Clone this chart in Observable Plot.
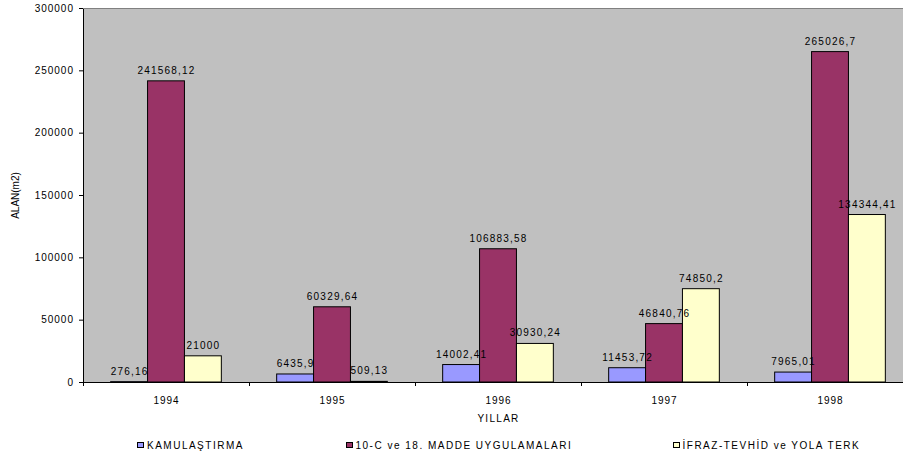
<!DOCTYPE html>
<html>
<head>
<meta charset="utf-8">
<script src="https://cdn.jsdelivr.net/npm/d3@7"></script>
<script src="https://cdn.jsdelivr.net/npm/@observablehq/plot@0.6"></script>
<style>
  html, body { margin: 0; padding: 0; background: #fff; overflow: hidden; }
  #wrap { position: relative; width: 903px; height: 460px; overflow: hidden; font-family: "Liberation Sans", Arial, sans-serif; }
  #chart { width: 920px; }
  #chart svg { display: block; max-width: none !important; width: 920px !important; height: 430px !important; font-family: "Liberation Sans", Arial, sans-serif; }
  #chart svg text { letter-spacing: 1px; fill: #000; }
  #chart g[aria-description="vlabel"] text { letter-spacing: 1.2px; }
  #chart g[aria-description="ytitle"] text { letter-spacing: 0px; }
  #chart g[aria-description="xtitle"] text { letter-spacing: 1.3px; }
  .leg { position: absolute; top: 440px; height: 12px; font-size: 10px; line-height: 12px; letter-spacing: 1.5px; color: #000; white-space: nowrap; }
  .sw { position: absolute; top: 441.5px; width: 7px; height: 6px; box-sizing: border-box; border: 1px solid #000; }
</style>
</head>
<body>
<div id="wrap">
  <div id="chart"></div>
  <div id="legend"></div>
</div>
<script>
const years = ["1994", "1995", "1996", "1997", "1998"];
const kamulastirma = [276.16, 6435.9, 14002.41, 11453.72, 7965.01];
const maddeUygulamalari = [241568.12, 60329.64, 106883.58, 46840.76, 265026.7];
const ifrazTevhid = [21000, 509.13, 30930.24, 74850.2, 134344.41];
const seriesNames = ["KAMULAŞTIRMA", "10-C ve 18. MADDE UYGULAMALARI", "İFRAZ-TEVHİD ve YOLA TERK"];
const seriesColors = ["#9999FF", "#993366", "#FFFFCC"];
const yTicks = [0, 50000, 100000, 150000, 200000, 250000, 300000];

const allSeries = [kamulastirma, maddeUygulamalari, ifrazTevhid];

const W = 920, H = 430, ML = 83, MR = 7, MT = 8, MB = 48;
const step = (W - ML - MR) / years.length;
const barW = step / 4.5;

const fmt = v => String(v).replace(".", ",");

const marks = [Plot.frame({fill: "#C0C0C0", stroke: "#000"})];
const rowsBySeries = allSeries.map((vals, i) => years.map((y, j) => ({year: y, value: vals[j], series: seriesNames[i]})));

rowsBySeries.forEach((rows, i) => {
  marks.push(Plot.barY(rows, {
    x: "year", y: "value",
    fill: seriesColors[i], stroke: "#000", strokeWidth: 1,
    insetLeft: barW * (0.75 + i),
    insetRight: step - barW * (1.75 + i)
  }));
});
rowsBySeries.forEach((rows, i) => {
  marks.push(Plot.text(rows, {
    x: "year", y: "value", text: d => fmt(d.value),
    dx: (i - 1) * barW, dy: -7.5, lineAnchor: "bottom",
    fontSize: 10, fill: "#000", ariaDescription: "vlabel"
  }));
});

marks.push(Plot.ruleY([300000], {stroke: "#808080"}));
marks.push(Plot.ruleY([0], {stroke: "#000"}));
marks.push(Plot.axisY({ticks: yTicks, tickSize: 4, tickPadding: 5.5, tickFormat: d => String(d), fontSize: 10, label: null, stroke: "#000"}));
marks.push(Plot.axisX({ticks: years, tickSize: 4, tickFormat: () => "", dx: -step / 2, label: null, stroke: "#000"}));
marks.push(Plot.axisX({ticks: years, tickSize: 0, tickPadding: 14, fontSize: 10, label: null}));
marks.push(Plot.text(["YILLAR"], {text: d => d, frameAnchor: "bottom", dy: 32, lineAnchor: "top", fontSize: 10, ariaDescription: "xtitle"}));
marks.push(Plot.text(["ALAN(m2)"], {text: d => d, frameAnchor: "left", textAnchor: "middle", dx: -68, rotate: -90, fontSize: 10, ariaDescription: "ytitle"}));

const chart = Plot.plot({
  width: W, height: H,
  marginLeft: ML, marginRight: MR, marginTop: MT, marginBottom: MB,
  style: {background: "#fff", color: "#000", fontFamily: "Liberation Sans, Arial, sans-serif", overflow: "visible"},
  x: {type: "band", domain: years, padding: 0},
  y: {domain: [0, 300000]},
  marks
});
document.getElementById("chart").appendChild(chart);

// legend
const legendLeft = [137, 345.5, 672.5];
const legend = document.getElementById("legend");
seriesNames.forEach((name, i) => {
  const sw = document.createElement("div");
  sw.className = "sw";
  sw.style.left = legendLeft[i] + "px";
  sw.style.background = seriesColors[i];
  legend.appendChild(sw);
  const t = document.createElement("div");
  t.className = "leg";
  t.style.left = (legendLeft[i] + 10) + "px";
  t.textContent = name;
  legend.appendChild(t);
});
</script>
</body>
</html>
